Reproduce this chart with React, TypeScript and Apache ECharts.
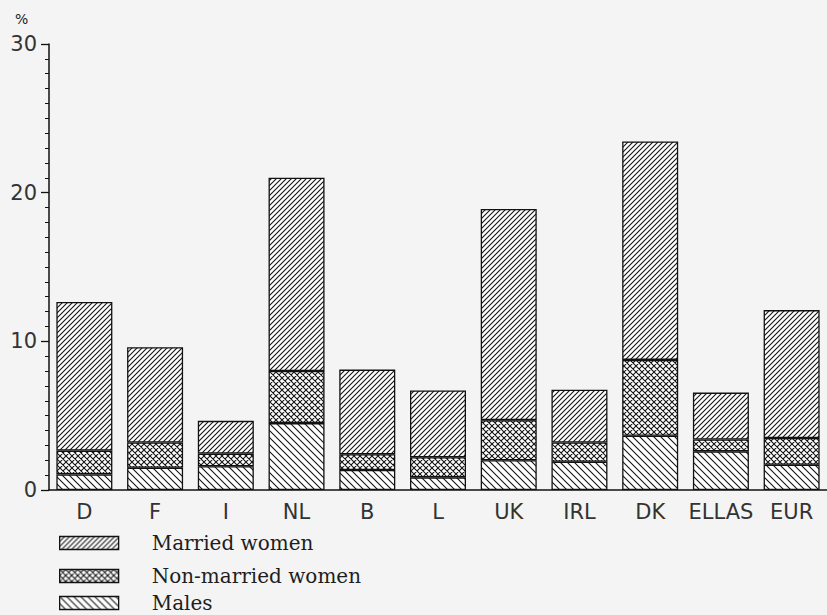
import React, { useEffect, useRef } from "react";
import * as echarts from "echarts";

const categories = ["D", "F", "I", "NL", "B", "L", "UK", "IRL", "DK", "ELLAS", "EUR"];
const males = [1.05, 1.5, 1.6, 4.5, 1.35, 0.85, 2.0, 1.9, 3.65, 2.6, 1.7];
const nonMarried = [1.6, 1.7, 0.85, 3.5, 1.05, 1.35, 2.7, 1.3, 5.1, 0.8, 1.8];
const married = [10.0, 6.4, 2.2, 13.0, 5.7, 4.5, 14.2, 3.55, 14.7, 3.15, 8.6];
const seriesNames = ["Married women", "Non-married women", "Males"];
const yMin = 0;
const yMax = 30;
const yInterval = 10;

const plotFont = "DejaVu Sans";

function hatch(kind: "fwd" | "back" | "cross", p: number) {
  const c = document.createElement("canvas");
  c.width = p;
  c.height = p;
  const ctx = c.getContext("2d")!;
  ctx.fillStyle = "#ffffff";
  ctx.fillRect(0, 0, p, p);
  ctx.strokeStyle = "#141414";
  ctx.lineWidth = 1.1;
  ctx.beginPath();
  if (kind === "fwd" || kind === "cross") {
    ctx.moveTo(-1, p + 1);
    ctx.lineTo(p + 1, -1);
    ctx.moveTo(-1, 1);
    ctx.lineTo(1, -1);
    ctx.moveTo(p - 1, p + 1);
    ctx.lineTo(p + 1, p - 1);
  }
  if (kind === "back" || kind === "cross") {
    ctx.moveTo(-1, -1);
    ctx.lineTo(p + 1, p + 1);
    ctx.moveTo(p - 1, -1);
    ctx.lineTo(p + 1, 1);
    ctx.moveTo(-1, p - 1);
    ctx.lineTo(1, p + 1);
  }
  ctx.stroke();
  return { image: c as any, repeat: "repeat", imageWidth: p, imageHeight: p } as any;
}

export default function App() {
  const ref = useRef<HTMLDivElement>(null);
  useEffect(() => {
    if (!ref.current) return;
    const chart = echarts.init(ref.current, undefined, { renderer: "svg" });
    const pMarried = hatch("fwd", 5);
    const pNon = hatch("cross", 6);
    const pMales = hatch("back", 7);
    const border = { borderColor: "#111", borderWidth: 1.3 };
    const legendText = {
      fontFamily: "DejaVu Serif",
      fontSize: 20,
      color: "#1e1e1e",
      padding: [0, 0, 0, 28],
    };
    const mkLegend = (name: string, top: number) => ({
      data: [name],
      left: 54,
      top,
      orient: "vertical",
      icon: "rect",
      itemWidth: 59,
      itemHeight: 13,
      selectedMode: false,
      textStyle: legendText,
      itemStyle: border,
    });
    const axisFont = {
      fontFamily: plotFont,
      fontSize: 21,
      color: "#333",
    };
    chart.setOption({
      animation: false,
      backgroundColor: "#f4f4f4",
      grid: { left: 49, top: 44, width: 781, bottom: 125 },
      legend: [
        mkLegend(seriesNames[0], 528),
        mkLegend(seriesNames[1], 561),
        mkLegend(seriesNames[2], 588),
      ],
      graphic: [
        {
          type: "text",
          left: 15,
          top: 12,
          style: { text: "%", fontFamily: plotFont, fontSize: 14, fill: "#222" },
        },
      ],
      xAxis: {
        type: "category",
        data: categories,
        axisLine: { lineStyle: { color: "#111", width: 1.5 } },
        axisTick: { show: false },
        axisLabel: { ...axisFont, interval: 0, margin: 11 },
      },
      yAxis: {
        type: "value",
        min: yMin,
        max: yMax,
        interval: yInterval,
        axisLine: { show: true, lineStyle: { color: "#111", width: 1.5 } },
        axisTick: { show: true, length: 8, lineStyle: { color: "#111", width: 1.3 } },
        minorTick: { show: true, splitNumber: 10, length: 4, lineStyle: { color: "#111", width: 1 } },
        splitLine: { show: false },
        axisLabel: { ...axisFont, margin: 12 },
      },
      series: [
        {
          name: seriesNames[2],
          type: "bar",
          stack: "a",
          barWidth: 56,
          data: males,
          itemStyle: { color: pMales, ...border },
        },
        {
          name: seriesNames[1],
          type: "bar",
          stack: "a",
          barWidth: 56,
          data: nonMarried,
          itemStyle: { color: pNon, ...border },
        },
        {
          name: seriesNames[0],
          type: "bar",
          stack: "a",
          barWidth: 56,
          data: married,
          itemStyle: { color: pMarried, ...border },
        },
      ],
    });
    return () => chart.dispose();
  }, []);
  return (
    <div
      ref={ref}
      style={{ position: "absolute", left: 0, top: 0, width: 827, height: 615 }}
    />
  );
}
